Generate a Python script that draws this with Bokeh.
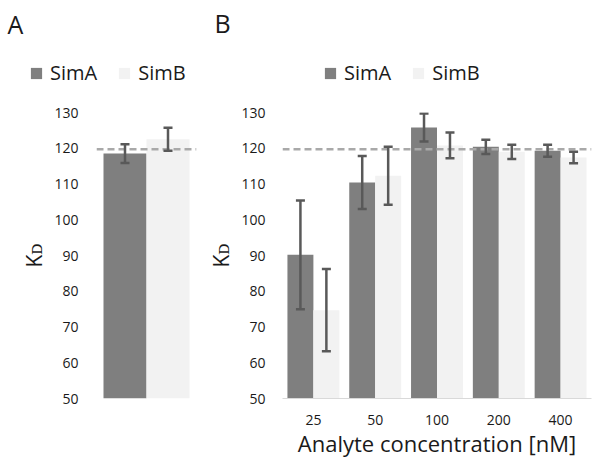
from bokeh.plotting import figure
from bokeh.models import (FactorRange, Range1d, ColumnDataSource, Whisker, TeeHead,
                          Span, Legend, LegendItem, FixedTicker, Label)
from bokeh.transform import dodge
from bokeh.layouts import row, column
from bokeh.embed import file_html
from bokeh.resources import INLINE

# ---------------- data ----------------
series = ["SimA", "SimB"]

# Panel A (all concentrations pooled)
a_group = ["all"]
a_sima = [118.5]
a_sima_err = [2.6]
a_simb = [122.5]
a_simb_err = [3.2]

# Panel B (by analyte concentration)
concentrations = ["25", "50", "100", "200", "400"]
b_sima = [90.2, 110.4, 125.8, 120.4, 119.3]
b_sima_err = [15.2, 7.4, 3.9, 2.0, 1.7]
b_simb = [74.7, 112.3, 120.8, 119.0, 117.4]
b_simb_err = [11.5, 8.1, 3.6, 2.0, 1.6]

reference_kd = 119.7
y_ticks = [50, 60, 70, 80, 90, 100, 110, 120, 130]
y_title = "K\u1d05"
x_title = "Analyte concentration [nM]"
panel_names = ["A", "B"]

# ---------------- style ----------------
FONT = "Open Sans"
COL_A = "#7f7f7f"
COL_B = "#f2f2f2"
ERR = "#595959"
DASH = "#a9a9a9"
TXT = "#1a1a1a"
HEAD_H = 95
MAIN_H = 461 - HEAD_H


def make_source(cats, va, ea, vb, eb):
    return ColumnDataSource(dict(
        cat=cats, a=va, b=vb,
        a_lo=[v - e for v, e in zip(va, ea)], a_hi=[v + e for v, e in zip(va, ea)],
        b_lo=[v - e for v, e in zip(vb, eb)], b_hi=[v + e for v, e in zip(vb, eb)],
    ))


def bars(p, src, half, barw, visible=True):
    ra = p.vbar(x=dodge("cat", -half, range=p.x_range), top="a", width=barw, source=src,
                fill_color=COL_A, line_color=None, visible=visible)
    rb = p.vbar(x=dodge("cat", half, range=p.x_range), top="b", width=barw, source=src,
                fill_color=COL_B, line_color=None, visible=visible)
    return ra, rb


def header(width, cats, src, half, barw, name, name_xy, leg_xy):
    h = figure(width=width, height=HEAD_H, x_range=FactorRange(*cats, range_padding=0),
               y_range=Range1d(50, 130), output_backend="svg", toolbar_location=None,
               x_axis_type=None, y_axis_type=None, min_border=0,
               min_border_left=0, min_border_right=0, min_border_top=0,
               min_border_bottom=0, title=None)
    h.outline_line_color = None
    h.grid.visible = False
    ra, rb = bars(h, src, half, barw, visible=False)
    h.add_layout(Label(x=name_xy[0], y=name_xy[1], x_units="screen", y_units="screen",
                       text=name, text_font=FONT, text_font_size="25px",
                       text_color=TXT, text_align="left", text_baseline="alphabetic"))
    leg = Legend(items=[LegendItem(label=series[0], renderers=[ra]),
                        LegendItem(label=series[1], renderers=[rb])],
                 location=leg_xy, orientation="horizontal", glyph_width=14,
                 glyph_height=14, label_standoff=7, spacing=20, padding=0, margin=0,
                 border_line_color=None, background_fill_alpha=0,
                 inactive_fill_alpha=0,
                 label_text_font=FONT, label_text_font_size="20px",
                 label_text_color=TXT)
    h.add_layout(leg)
    return h


def main(width, cats, src, half, barw, mb_left, mb_right, mb_bottom, show_x,
         tick_standoff):
    p = figure(width=width, height=MAIN_H, x_range=FactorRange(*cats, range_padding=0),
               y_range=Range1d(50, 130), output_backend="svg", toolbar_location=None,
               min_border_left=mb_left, min_border_right=mb_right,
               min_border_top=112 - HEAD_H, min_border_bottom=mb_bottom, title=None)
    p.outline_line_color = None
    p.xgrid.visible = False
    p.ygrid.visible = False
    p.background_fill_color = "white"
    p.border_fill_color = "white"

    bars(p, src, half, barw)

    p.add_layout(Span(location=reference_kd, dimension="width", line_color=DASH,
                      line_width=2.5, line_dash="7 4", level="annotation"))

    for off, lo, hi in [(-half, "a_lo", "a_hi"), (half, "b_lo", "b_hi")]:
        w = Whisker(base=dodge("cat", off, range=p.x_range), lower=lo, upper=hi,
                    source=src, line_color=ERR, line_width=2.5, level="annotation",
                    upper_head=TeeHead(size=9, line_color=ERR, line_width=2.5),
                    lower_head=TeeHead(size=9, line_color=ERR, line_width=2.5))
        p.add_layout(w)

    ya = p.yaxis[0]
    ya.ticker = FixedTicker(ticks=y_ticks)
    ya.axis_line_color = None
    ya.major_tick_line_color = None
    ya.minor_tick_line_color = None
    ya.major_tick_out = 0
    ya.major_tick_in = 0
    ya.minor_tick_out = 0
    ya.major_label_standoff = tick_standoff
    ya.major_label_text_font = FONT
    ya.major_label_text_font_size = "14px"
    ya.major_label_text_color = TXT
    ya.axis_label = y_title
    ya.axis_label_standoff = 3
    ya.axis_label_text_font = FONT
    ya.axis_label_text_font_size = "21px"
    ya.axis_label_text_font_style = "normal"
    ya.axis_label_text_color = TXT

    xa = p.xaxis[0]
    if show_x:
        xa.axis_line_color = "#d9d9d9"
        xa.axis_line_width = 1
        xa.major_tick_line_color = None
        xa.minor_tick_line_color = None
        xa.major_tick_out = 0
        xa.major_tick_in = 0
        xa.major_label_standoff = 16
        xa.major_label_text_font = FONT
        xa.major_label_text_font_size = "14px"
        xa.major_label_text_color = TXT
        xa.axis_label = x_title
        xa.axis_label_standoff = 0
        xa.axis_label_text_font = FONT
        xa.axis_label_text_font_size = "22px"
        xa.axis_label_text_font_style = "normal"
        xa.axis_label_text_color = TXT
    else:
        xa.visible = False
    return p


srcA = make_source(a_group, a_sima, a_sima_err, a_simb, a_simb_err)
srcB = make_source(concentrations, b_sima, b_sima_err, b_simb, b_simb_err)

hA = header(200, a_group, srcA, 0.215, 0.43, panel_names[0], (7, 72), (29, 9))
hB = header(396, concentrations, srcB, 0.21, 0.42, panel_names[1], (14, 73), (123, 9))
pA = main(200, a_group, srcA, 0.215, 0.43, 96, 4, 61, False, 18)
pB = main(396, concentrations, srcB, 0.21, 0.42, 82, 5, 63, True, 17)

layout = column(row(hA, hB), row(pA, pB))
open("out.html", "w").write(file_html(layout, INLINE))
